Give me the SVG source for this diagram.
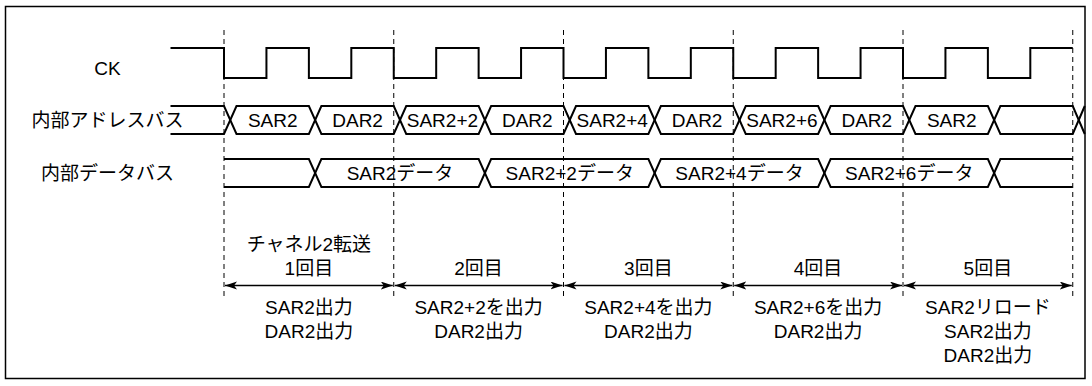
<svg xmlns="http://www.w3.org/2000/svg" width="1092" height="386" viewBox="0 0 1092 386">
  <style>
    text { font-family: "Liberation Sans", "Noto Sans CJK JP", sans-serif; font-size: 19px; fill: #000; }
    .c { text-anchor: middle; }
    .sig { fill: none; stroke: #000; stroke-width: 2; stroke-linejoin: miter; }
    .guide { fill: none; stroke: #000; stroke-width: 1; stroke-dasharray: 5 4; }
    .arrow { fill: none; stroke: #000; stroke-width: 1.5; marker-start: url(#ah); marker-end: url(#ah); }
  </style>
  <defs>
    <marker id="ah" markerUnits="userSpaceOnUse" markerWidth="14" markerHeight="10" refX="12" refY="4" orient="auto-start-reverse">
      <path d="M0,0 L12,4 L0,8 L3,4 z" fill="#000"/>
    </marker>
  </defs>

  <rect id="frame" x="5.5" y="6.5" width="1079.5" height="372" fill="#fff" stroke="#000" stroke-width="1.5"/>

  <g id="guides">
    <line class="guide" x1="224" y1="30" x2="224" y2="300"/>
    <line class="guide" x1="393.75" y1="30" x2="393.75" y2="300"/>
    <line class="guide" x1="563.5" y1="30" x2="563.5" y2="300"/>
    <line class="guide" x1="733.25" y1="30" x2="733.25" y2="300"/>
    <line class="guide" x1="903" y1="30" x2="903" y2="300"/>
    <line class="guide" x1="1072.75" y1="30" x2="1072.75" y2="300"/>
  </g>

  <g id="ck">
    <text class="c" x="107.5" y="74.5">CK</text>
    <path class="sig" d="M170.5,48 H224 V78 H266.44 V48 H308.88 V78 H351.31 V48 H393.75 V78 H436.19 V48 H478.63 V78 H521.06 V48 H563.5 V78 H605.94 V48 H648.38 V78 H690.81 V48 H733.25 V78 H775.69 V48 H818.13 V78 H860.56 V48 H903 V78 H945.44 V48 H987.88 V78 H1030.31 V48 H1072.75"/>
  </g>

  <g id="address-bus">
    <text class="c" x="107.5" y="127">内部アドレスバス</text>
    <path class="sig" d="M170.5,106 H224 L236.5,134 H308.88 L321.38,106 H393.75 L406.25,134 H478.63 L491.13,106 H563.5 L576,134 H648.38 L660.88,106 H733.25 L745.75,134 H818.13 L830.63,106 H903 L915.5,134 H987.88 L1000.38,106 H1072.75 L1084.75,134"/>
    <path class="sig" d="M170.5,134 H224 L236.5,106 H308.88 L321.38,134 H393.75 L406.25,106 H478.63 L491.13,134 H563.5 L576,106 H648.38 L660.88,134 H733.25 L745.75,106 H818.13 L830.63,134 H903 L915.5,106 H987.88 L1000.38,134 H1072.75 L1084.75,106"/>
    <text class="c" x="272.7" y="127">SAR2</text>
    <text class="c" x="357.6" y="127">DAR2</text>
    <text class="c" x="442.4" y="127">SAR2+2</text>
    <text class="c" x="527.3" y="127">DAR2</text>
    <text class="c" x="612.2" y="127">SAR2+4</text>
    <text class="c" x="697.1" y="127">DAR2</text>
    <text class="c" x="781.9" y="127">SAR2+6</text>
    <text class="c" x="866.8" y="127">DAR2</text>
    <text class="c" x="951.7" y="127">SAR2</text>
  </g>

  <g id="data-bus">
    <text class="c" x="107.5" y="180">内部データバス</text>
    <path class="sig" d="M224,159 H308.88 L321.38,187 H478.63 L491.13,159 H648.38 L660.88,187 H818.13 L830.63,159 H987.88 L1000.38,187 H1072.75"/>
    <path class="sig" d="M224,187 H308.88 L321.38,159 H478.63 L491.13,187 H648.38 L660.88,159 H818.13 L830.63,187 H987.88 L1000.38,159 H1072.75"/>
    <text class="c" x="400" y="180">SAR2データ</text>
    <text class="c" x="569.75" y="180">SAR2+2データ</text>
    <text class="c" x="739.5" y="180">SAR2+4データ</text>
    <text class="c" x="909.25" y="180">SAR2+6データ</text>
  </g>

  <g id="transfer-1">
    <text class="c" x="308.9" y="251">チャネル2転送</text>
    <text class="c" x="308.9" y="275">1回目</text>
    <text class="c" x="308.9" y="314">SAR2出力</text>
    <text class="c" x="308.9" y="338">DAR2出力</text>
  </g>
  <g id="transfer-2">
    <text class="c" x="478.6" y="275">2回目</text>
    <text class="c" x="478.6" y="314">SAR2+2を出力</text>
    <text class="c" x="478.6" y="338">DAR2出力</text>
  </g>
  <g id="transfer-3">
    <text class="c" x="648.4" y="275">3回目</text>
    <text class="c" x="648.4" y="314">SAR2+4を出力</text>
    <text class="c" x="648.4" y="338">DAR2出力</text>
  </g>
  <g id="transfer-4">
    <text class="c" x="818.1" y="275">4回目</text>
    <text class="c" x="818.1" y="314">SAR2+6を出力</text>
    <text class="c" x="818.1" y="338">DAR2出力</text>
  </g>
  <g id="transfer-5">
    <text class="c" x="987.9" y="275">5回目</text>
    <text class="c" x="987.9" y="314">SAR2リロード</text>
    <text class="c" x="987.9" y="338">SAR2出力</text>
    <text class="c" x="987.9" y="362">DAR2出力</text>
  </g>

  <g id="connectors">
    <line class="arrow" x1="225" y1="285.5" x2="392.75" y2="285.5"/>
    <line class="arrow" x1="394.75" y1="285.5" x2="562.5" y2="285.5"/>
    <line class="arrow" x1="564.5" y1="285.5" x2="732.25" y2="285.5"/>
    <line class="arrow" x1="734.25" y1="285.5" x2="902" y2="285.5"/>
    <line class="arrow" x1="904" y1="285.5" x2="1071.75" y2="285.5"/>
  </g>
</svg>
